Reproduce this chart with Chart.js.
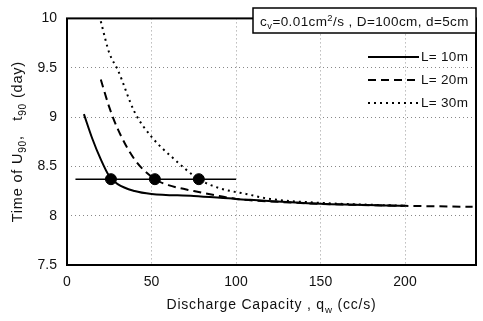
<!DOCTYPE html>
<html>
<head>
<meta charset="utf-8">
<script src="https://cdn.jsdelivr.net/npm/chart.js@4.4.0/dist/chart.umd.min.js"></script>
<style>
  html, body { margin: 0; padding: 0; background: #fff; }
  #wrap { width: 483px; height: 321px; }
</style>
</head>
<body>
<div id="wrap"><canvas id="c"></canvas></div>
<script>
// values
const qw10 = [10, 15, 20, 25, 30, 40, 50, 75, 100, 150, 200];
const t10 = [9.03, 8.78, 8.57, 8.4, 8.32, 8.25, 8.22, 8.2, 8.17, 8.12, 8.1];
const qw20 = [20, 25, 30, 40, 52, 60, 75, 90, 100, 125, 150, 200, 240];
const t20 = [9.38, 9.1, 8.88, 8.57, 8.37, 8.31, 8.25, 8.2, 8.17, 8.14, 8.12, 8.1, 8.09];
const qw30 = [20, 25, 30, 40, 50, 63, 78, 90, 106, 120, 150, 200];
const t30 = [9.97, 9.65, 9.48, 9.05, 8.8, 8.58, 8.37, 8.28, 8.22, 8.17, 8.13, 8.1];
const refLineX = [5, 100];
const refT = 8.37;
const crossX = [26, 52, 78];
const xTicks = [0, 50, 100, 150, 200];
const yTicks = [7.5, 8, 8.5, 9, 9.5, 10];
const seriesNames = ['L= 10m', 'L= 20m', 'L= 30m'];

const FONT = '"Liberation Sans", Arial, sans-serif';

function pts(xs, ys) {
  return xs.map((x, i) => ({ x: x, y: ys[i] }));
}

// text with sub/superscripts: parts = [[text, 'sub'|'sup'|''], ...]
function richWidth(ctx, parts, size) {
  let w = 0;
  parts.forEach(p => {
    ctx.font = (p[1] ? size * 0.7 : size) + 'px ' + FONT;
    w += ctx.measureText(p[0]).width;
  });
  return w;
}
function drawRich(ctx, parts, x, y, size) {
  parts.forEach(p => {
    const s = p[1] ? size * 0.7 : size;
    ctx.font = s + 'px ' + FONT;
    let dy = 0;
    if (p[1] === 'sub') dy = size * 0.25;
    if (p[1] === 'sup') dy = -size * 0.4;
    ctx.fillText(p[0], x, y + dy);
    x += ctx.measureText(p[0]).width;
  });
}

const decor = {
  id: 'decor',
  afterDraw(chart) {
    const ctx = chart.ctx;
    const a = chart.chartArea;
    ctx.save();
    ctx.fillStyle = '#111';
    ctx.textBaseline = 'alphabetic';

    // plot frame
    ctx.strokeStyle = '#000';
    ctx.lineWidth = 2;
    ctx.setLineDash([]);
    ctx.strokeRect(a.left, a.top, a.right - a.left, a.bottom - a.top);

    ctx.letterSpacing = '0.8px';
    // x title
    const xt = [['Discharge Capacity , q', ''], ['w', 'sub'], [' (cc/s)', '']];
    const xw = richWidth(ctx, xt, 14);
    drawRich(ctx, xt, (a.left + a.right) / 2 - xw / 2, 309, 14);

    // y title
    const yt = [['Time of U', ''], ['90', 'sub'], [',   t', ''], ['90', 'sub'], [' (day)', '']];
    const yw = richWidth(ctx, yt, 14.5);
    ctx.save();
    ctx.translate(22, (a.top + a.bottom) / 2);
    ctx.rotate(-Math.PI / 2);
    drawRich(ctx, yt, -yw / 2, 0, 14.5);
    ctx.restore();

    // parameter box
    ctx.fillStyle = '#fff';
    ctx.fillRect(253, 8, a.right - 253, 25);
    ctx.lineWidth = 1.5;
    ctx.strokeRect(253, 8, a.right - 253, 25);
    ctx.fillStyle = '#111';
    ctx.letterSpacing = '0.4px';
    const bt = [['c', ''], ['v', 'sub'], ['=0.01cm', ''], ['2', 'sup'], ['/s , D=100cm, d=5cm', '']];
    const bw = richWidth(ctx, bt, 13.5);
    drawRich(ctx, bt, 253 + (a.right - 253) / 2 - bw / 2, 26, 13.5);

    // legend
    ctx.letterSpacing = '0.3px';
    ctx.font = '13.5px ' + FONT;
    ctx.textBaseline = 'middle';
    for (let i = 0; i < 3; i++) {
      const ds = chart.data.datasets[i];
      const y = 57 + i * 23;
      ctx.strokeStyle = '#000';
      ctx.lineWidth = ds.borderWidth;
      ctx.setLineDash(ds.borderDash || []);
      ctx.beginPath();
      ctx.moveTo(368, y);
      ctx.lineTo(419, y);
      ctx.stroke();
      ctx.fillText(ds.label, 421, y);
    }
    ctx.restore();
  }
};

new Chart(document.getElementById('c'), {
  type: 'scatter',
  data: {
    datasets: [
      { label: seriesNames[0], data: pts(qw10, t10), showLine: true, borderColor: '#000',
        borderWidth: 2, pointRadius: 0, cubicInterpolationMode: 'monotone' },
      { label: seriesNames[1], data: pts(qw20, t20), showLine: true, borderColor: '#000',
        borderWidth: 2, borderDash: [8, 5], pointRadius: 0, cubicInterpolationMode: 'monotone' },
      { label: seriesNames[2], data: pts(qw30, t30), showLine: true, borderColor: '#000',
        borderWidth: 2, borderDash: [2, 4], pointRadius: 0, cubicInterpolationMode: 'monotone' },
      { label: 'ref', data: refLineX.map(x => ({ x: x, y: refT })), showLine: true,
        borderColor: '#000', borderWidth: 1.5, pointRadius: 0 },
      { label: 'cross', data: crossX.map(x => ({ x: x, y: refT })), showLine: false,
        backgroundColor: '#000', borderColor: '#000', pointRadius: 5.5 }
    ]
  },
  options: {
    responsive: true,
    maintainAspectRatio: false,
    animation: false,
    layout: { padding: { top: 9, right: 7, left: 0, bottom: 0 } },
    plugins: { legend: { display: false }, tooltip: { enabled: false } },
    scales: {
      x: {
        type: 'linear', min: 0, max: 242,
        afterBuildTicks: s => { s.ticks = xTicks.map(v => ({ value: v })); },
        afterFit: s => { s.height = 56; },
        grid: { color: '#999', drawTicks: false, lineWidth: 1 },
        border: { display: false, dash: [1, 3] },
        ticks: { color: '#111', padding: 9, font: { family: FONT, size: 14 } }
      },
      y: {
        type: 'linear', min: 7.5, max: 10,
        afterBuildTicks: s => { s.ticks = yTicks.map(v => ({ value: v })); },
        afterFit: s => { s.width = 67; },
        grid: { color: '#888', drawTicks: false, lineWidth: 1 },
        border: { display: false, dash: [1, 3] },
        ticks: { color: '#111', padding: 10, font: { family: FONT, size: 14 },
          callback: v => String(v) }
      }
    }
  },
  plugins: [decor]
});
</script>
</body>
</html>
